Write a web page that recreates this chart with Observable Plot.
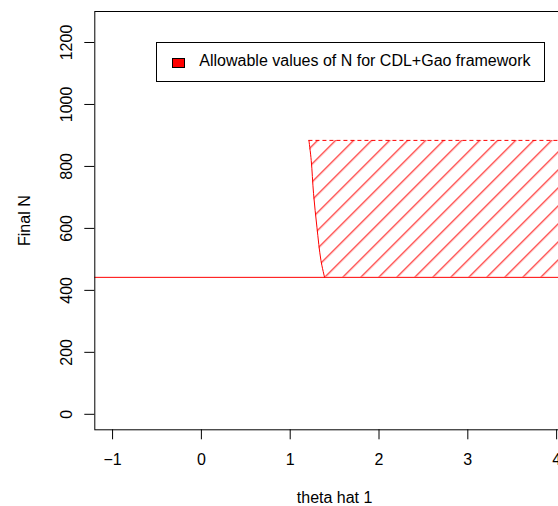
<!DOCTYPE html>
<html>
<head>
<meta charset="utf-8">
<script src="https://cdn.jsdelivr.net/npm/d3@7"></script>
<script src="https://cdn.jsdelivr.net/npm/@observablehq/plot@0.6"></script>
<style>
  body { margin: 0; background: #fff; }
  #wrap { position: relative; width: 558px; height: 506px; overflow: hidden;
          font-family: "Liberation Sans", Arial, Helvetica, sans-serif; }
  #legend { position: absolute; left: 156.2px; top: 41.8px; width: 389.3px; height: 40px;
            border: 1px solid #000; box-sizing: border-box; background: #fff; }
  #swatch { position: absolute; left: 171.7px; top: 58px; width: 13.3px; height: 9.5px;
            background: #f00; border: 1px solid #000; box-sizing: border-box; }
  #legtext { position: absolute; left: 199.3px; top: 52.2px; font-size: 16px; line-height: normal;
             white-space: nowrap; color: #000; }
</style>
</head>
<body>
<div id="wrap"></div>
<script>
// ---- data ----
const xTicks = [-1, 0, 1, 2, 3, 4];
const yTicks = [0, 200, 400, 600, 800, 1000, 1200];
const xDomain = [-1.2, 4.2];
const yDomain = [-50, 1300];
const baselineN = 442;
const upperN = 884;
const boundaryTheta = [1.211, 1.237, 1.263, 1.301, 1.346, 1.387];
const boundaryN = [884, 819, 712, 604, 497, 442];
const regionRightTheta = 4.2;
const xLabel = "theta hat 1";
const yLabel = "Final N";
const legendLabel = "Allowable values of N for CDL+Gao framework";

const region = boundaryTheta.map((t, i) => ({theta: t, n: boundaryN[i]}));

const red = "#ff0000";
const fmt = d3.format("d");
const chart = Plot.plot({
  width: 558,
  height: 506,
  marginLeft: 94.3,
  marginRight: -15.9,
  marginTop: 11,
  marginBottom: 76.7,
  style: {fontFamily: '"Liberation Sans", Arial, Helvetica, sans-serif', fontSize: "16px", background: "#fff", color: "#000"},
  x: {domain: xDomain},
  y: {domain: yDomain},
  marks: [
    Plot.areaX(region, {y: "n", x1: "theta", x2: regionRightTheta, fill: "url(#hatch)", curve: "catmull-rom"}),
    Plot.ruleY([baselineN], {stroke: red, strokeWidth: 1}),
    Plot.line(region, {x: "theta", y: "n", stroke: red, strokeWidth: 1, curve: "catmull-rom"}),
    Plot.ruleY([upperN], {x1: boundaryTheta[0], x2: regionRightTheta, stroke: red, strokeWidth: 1, strokeDasharray: "4,3"}),
    Plot.frame({stroke: "#000"}),
    Plot.axisX({ticks: xTicks, tickFormat: fmt, tickSize: 10, tickPadding: 13.5, label: xLabel, labelAnchor: "center", labelArrow: "none", labelOffset: 73}),
    Plot.axisY({ticks: yTicks, tickFormat: fmt, tickSize: 10, tickRotate: -90, tickPadding: 13, label: yLabel, labelAnchor: "center", labelArrow: "none", labelOffset: 76})
  ]
});

// hatch pattern definition (R density-style 45° shading)
const ns = "http://www.w3.org/2000/svg";
const defs = document.createElementNS(ns, "defs");
const pat = document.createElementNS(ns, "pattern");
pat.setAttribute("id", "hatch");
pat.setAttribute("patternUnits", "userSpaceOnUse");
pat.setAttribute("width", "12.73");
pat.setAttribute("height", "12.73");
pat.setAttribute("patternTransform", "rotate(45)");
const ln = document.createElementNS(ns, "line");
ln.setAttribute("x1", "5.66"); ln.setAttribute("x2", "5.66");
ln.setAttribute("y1", "-1"); ln.setAttribute("y2", "14");
ln.setAttribute("stroke", red);
ln.setAttribute("stroke-width", "1");
pat.appendChild(ln);
defs.appendChild(pat);
chart.insertBefore(defs, chart.firstChild);

const wrap = document.getElementById("wrap");
wrap.appendChild(chart);
const leg = document.createElement("div"); leg.id = "legend"; wrap.appendChild(leg);
const sw = document.createElement("div"); sw.id = "swatch"; wrap.appendChild(sw);
const lt = document.createElement("div"); lt.id = "legtext"; lt.textContent = legendLabel; wrap.appendChild(lt);
</script>
</body>
</html>
